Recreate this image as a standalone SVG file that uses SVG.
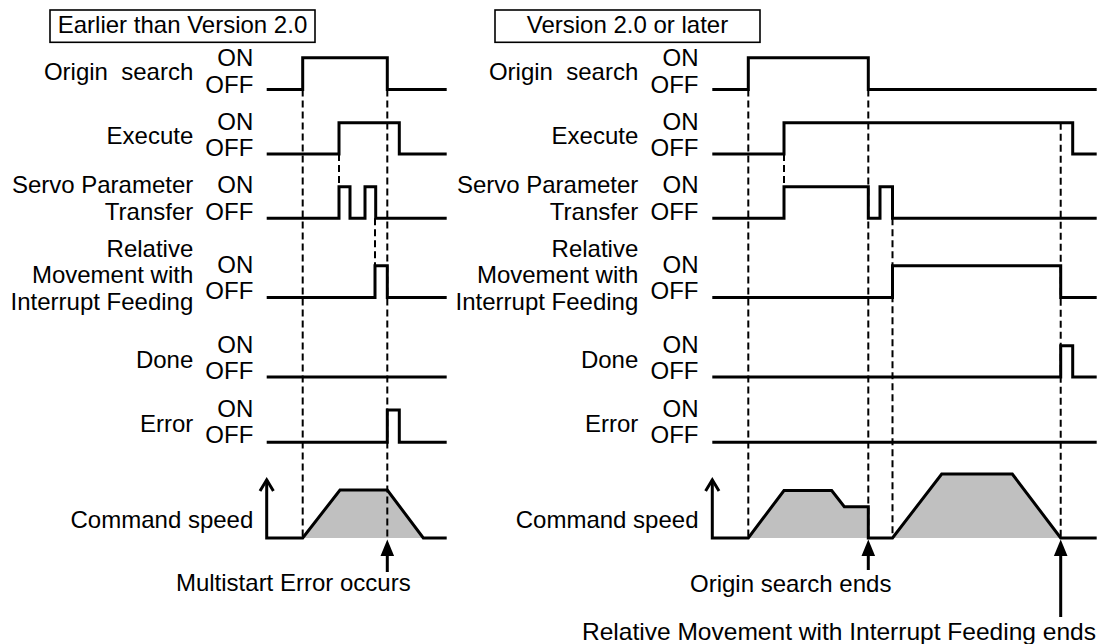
<svg xmlns="http://www.w3.org/2000/svg" width="1103" height="644" viewBox="0 0 1103 644">
<style>
text{font-family:"Liberation Sans",Arial,sans-serif;font-size:24px;fill:#000}
.r{text-anchor:end}
.m{text-anchor:middle}
.sig{fill:none;stroke:#000;stroke-width:3;stroke-linejoin:miter;stroke-linecap:butt}
.dash{fill:none;stroke:#000;stroke-width:2;stroke-dasharray:7 4}
.fill{fill:#c0c0c0;stroke:none}
.box{fill:#fff;stroke:#000;stroke-width:1.6}
.shaft{stroke:#000;stroke-width:3}
</style>
<rect width="1103" height="644" fill="#fff"/>

<!-- titles -->
<g id="title-left"><rect class="box" x="50" y="10" width="265" height="32.3"/><text class="m" x="182.5" y="33.3">Earlier than Version 2.0</text></g>
<g id="title-right"><rect class="box" x="495" y="10" width="265" height="32.3"/><text class="m" x="627.5" y="33.3">Version 2.0 or later</text></g>

<!-- speed fills -->
<g id="speed-fill">
<polygon class="fill" points="302.7,538 340,490 387.3,490 423.3,538"/>
<polygon class="fill" points="748.3,538 784,490.5 831.7,490.5 844.3,506.7 868.3,506.7 868.3,538"/>
<polygon class="fill" points="892.5,538 941.7,474 1012.3,474 1060.7,538"/>
</g>

<!-- connectors: dashed timing guides and event arrows -->
<g id="connectors">
<line class="dash" x1="302.7" y1="89.5" x2="302.7" y2="538"/>
<line class="dash" x1="387.3" y1="89.5" x2="387.3" y2="538"/>
<line class="dash" x1="339" y1="154" x2="339" y2="186.7"/>
<line class="dash" x1="375" y1="218.3" x2="375" y2="265.7"/>
<line class="dash" x1="748.3" y1="89.5" x2="748.3" y2="538"/>
<line class="dash" x1="784" y1="154" x2="784" y2="186.7"/>
<line class="dash" x1="868.3" y1="89.5" x2="868.3" y2="538"/>
<line class="dash" x1="892.5" y1="218.3" x2="892.5" y2="538"/>
<line class="dash" x1="1060.7" y1="122.7" x2="1060.7" y2="538"/>
<line class="shaft" x1="387.3" y1="554" x2="387.3" y2="572"/>
<polygon points="387.3,539.5 380.5,556 394.1,556"/>
<line class="shaft" x1="868.3" y1="554" x2="868.3" y2="570"/>
<polygon points="868.3,539.5 861.5,556 875.1,556"/>
<line class="shaft" x1="1060.7" y1="554" x2="1060.7" y2="617"/>
<polygon points="1060.7,539.5 1053.9,556 1067.5,556"/>
</g>

<!-- LEFT PANEL -->
<g id="L-origin">
<text class="r" x="193.3" y="80" xml:space="preserve">Origin  search</text>
<text class="r" x="253.3" y="66">ON</text><text class="r" x="253.3" y="92.5">OFF</text>
<path class="sig" d="M266.7,89.5 H302.7 V57.7 H387.3 V89.5 H446.7"/>
</g>
<g id="L-execute">
<text class="r" x="193.3" y="144">Execute</text>
<text class="r" x="253.3" y="129.5">ON</text><text class="r" x="253.3" y="156.3">OFF</text>
<path class="sig" d="M266.7,154 H339 V122.7 H399.3 V154 H446.7"/>
</g>
<g id="L-servo">
<text class="r" x="193.3" y="193.3">Servo Parameter</text>
<text class="r" x="193.3" y="220">Transfer</text>
<text class="r" x="253.3" y="193.3">ON</text><text class="r" x="253.3" y="220">OFF</text>
<path class="sig" d="M266.7,218.3 H339 V186.7 H350 V218.3 H365 V186.7 H375.7 V218.3 H446.7"/>
</g>
<g id="L-relative">
<text class="r" x="193.3" y="256.5">Relative</text>
<text class="r" x="193.3" y="283.3">Movement with</text>
<text class="r" x="193.3" y="310">Interrupt Feeding</text>
<text class="r" x="253.3" y="272.5">ON</text><text class="r" x="253.3" y="299">OFF</text>
<path class="sig" d="M266.7,297.5 H375 V265.7 H387.3 V297.5 H446.7"/>
</g>
<g id="L-done">
<text class="r" x="193.3" y="367.5">Done</text>
<text class="r" x="253.3" y="353.3">ON</text><text class="r" x="253.3" y="379">OFF</text>
<path class="sig" d="M266.7,377 H446.7"/>
</g>
<g id="L-error">
<text class="r" x="193.3" y="432">Error</text>
<text class="r" x="253.3" y="416.7">ON</text><text class="r" x="253.3" y="443.3">OFF</text>
<path class="sig" d="M266.7,442.3 H387.3 V410 H399.3 V442.3 H446.7"/>
</g>
<g id="L-speed">
<text class="r" x="253.3" y="527.5">Command speed</text>
<path class="sig" d="M266.7,479.8 V538 H302.7 L340,490 H387.3 L423.3,538 H446.7"/>
<path class="sig" d="M260,491 L266.7,479.8 L273.4,491"/>
</g>
<g id="L-note"><text class="m" x="293.3" y="591">Multistart Error occurs</text></g>

<!-- RIGHT PANEL -->
<g id="R-origin">
<text class="r" x="638.3" y="80" xml:space="preserve">Origin  search</text>
<text class="r" x="698.5" y="66">ON</text><text class="r" x="698.5" y="92.5">OFF</text>
<path class="sig" d="M712.3,89.5 H748.3 V57.7 H868.3 V89.5 H1096.7"/>
</g>
<g id="R-execute">
<text class="r" x="638.3" y="144">Execute</text>
<text class="r" x="698.5" y="129.5">ON</text><text class="r" x="698.5" y="156.3">OFF</text>
<path class="sig" d="M712.3,154 H784 V122.7 H1072.7 V154 H1096.7"/>
</g>
<g id="R-servo">
<text class="r" x="638.3" y="193.3">Servo Parameter</text>
<text class="r" x="638.3" y="220">Transfer</text>
<text class="r" x="698.5" y="193.3">ON</text><text class="r" x="698.5" y="220">OFF</text>
<path class="sig" d="M712.3,218.3 H784 V186.7 H868.3 V218.3 H880 V186.7 H892.5 V218.3 H1096.7"/>
</g>
<g id="R-relative">
<text class="r" x="638.3" y="256.5">Relative</text>
<text class="r" x="638.3" y="283.3">Movement with</text>
<text class="r" x="638.3" y="310">Interrupt Feeding</text>
<text class="r" x="698.5" y="272.5">ON</text><text class="r" x="698.5" y="299">OFF</text>
<path class="sig" d="M712.3,297.5 H892.5 V265.7 H1060.7 V297.5 H1096.7"/>
</g>
<g id="R-done">
<text class="r" x="638.3" y="367.5">Done</text>
<text class="r" x="698.5" y="353.3">ON</text><text class="r" x="698.5" y="379">OFF</text>
<path class="sig" d="M712.3,377 H1060.7 V345.7 H1072.7 V377 H1096.7"/>
</g>
<g id="R-error">
<text class="r" x="638.3" y="432">Error</text>
<text class="r" x="698.5" y="416.7">ON</text><text class="r" x="698.5" y="443.3">OFF</text>
<path class="sig" d="M712.3,442.3 H1096.7"/>
</g>
<g id="R-speed">
<text class="r" x="698.5" y="527.5">Command speed</text>
<path class="sig" d="M712.3,479.8 V538 H748.3 L784,490.5 H831.7 L844.3,506.7 H868.3 V538 H892.5 L941.7,474 H1012.3 L1060.7,538 H1096.7"/>
<path class="sig" d="M705.6,491 L712.3,479.8 L719,491"/>
</g>
<g id="R-note1"><text class="m" x="790.7" y="592">Origin search ends</text></g>
<g id="R-note2"><text x="582" y="640" textLength="514" lengthAdjust="spacingAndGlyphs">Relative Movement with Interrupt Feeding ends</text></g>
</svg>
